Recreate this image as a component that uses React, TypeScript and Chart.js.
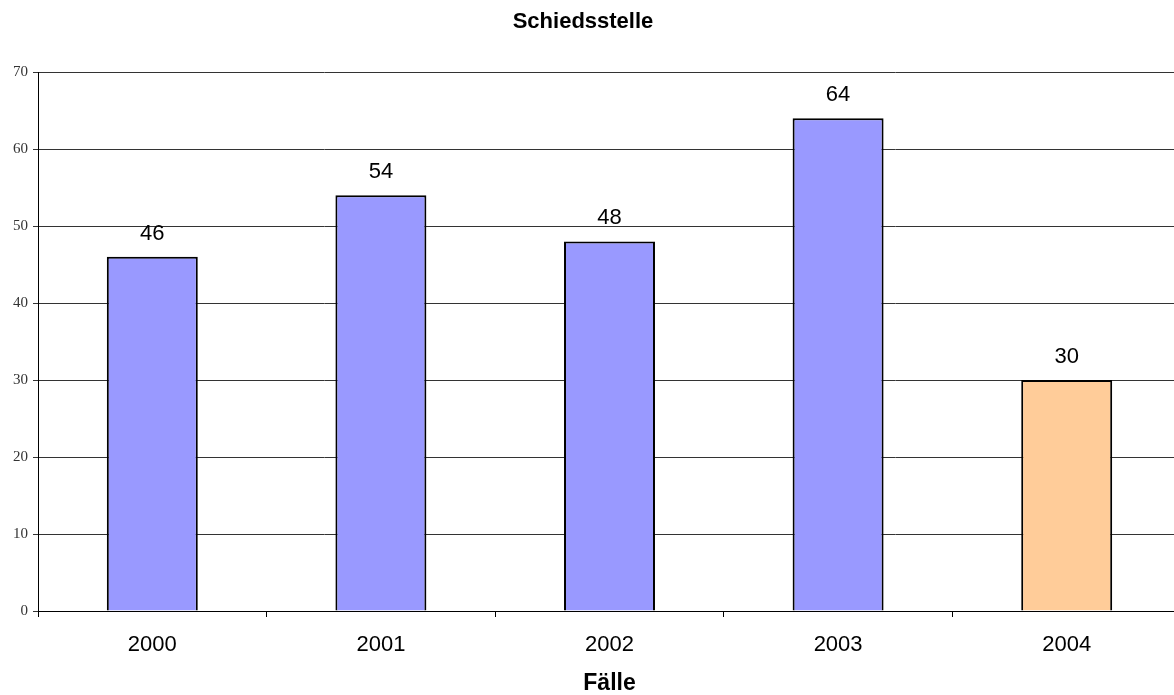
import React, { useEffect, useRef } from "react";
import { Chart, registerables } from "chart.js";

Chart.register(...registerables);

const categories = ["2000", "2001", "2002", "2003", "2004"];
const values = [46, 54, 48, 64, 30];
const barColors = ["#9999FF", "#9999FF", "#9999FF", "#9999FF", "#FFCC99"];
const yTicks = [0, 10, 20, 30, 40, 50, 60, 70];
const chartTitle = "Schiedsstelle";
const xTitle = "Fälle";

const SANS = "'Liberation Sans', Arial, Helvetica, sans-serif";
const SERIF = "'Liberation Serif', 'Times New Roman', serif";

const valueLabels = {
  id: "valueLabels",
  afterDatasetsDraw(chart: any) {
    const ctx = chart.ctx;
    const meta = chart.getDatasetMeta(0);
    ctx.save();
    ctx.font = `22px ${SANS}`;
    ctx.fillStyle = "#000";
    ctx.textAlign = "center";
    ctx.textBaseline = "middle";
    meta.data.forEach((bar: any, i: number) => {
      ctx.fillText(String(values[i]), bar.x, bar.y - 23);
    });
    ctx.restore();
  },
};

const titleText = {
  id: "titleText",
  afterDraw(chart: any) {
    const ctx = chart.ctx;
    ctx.save();
    ctx.font = `bold 22px ${SANS}`;
    ctx.fillStyle = "#000";
    ctx.textAlign = "center";
    ctx.textBaseline = "middle";
    ctx.fillText(chartTitle, 583, 22);
    ctx.restore();
  },
};

export default function App() {
  const ref = useRef<HTMLCanvasElement | null>(null);
  useEffect(() => {
    if (!ref.current) return;
    const chart = new Chart(ref.current, {
      type: "bar",
      data: {
        labels: categories,
        datasets: [
          {
            data: values,
            backgroundColor: barColors,
            borderColor: "#000",
            borderWidth: 2,
            borderSkipped: "bottom",
            barPercentage: 0.398,
            categoryPercentage: 1,
          },
        ],
      },
      plugins: [valueLabels, titleText],
      options: {
        responsive: false,
        animation: false,
        devicePixelRatio: 1,
        layout: { padding: { left: 0, right: 9, top: 72, bottom: 0 } },
        plugins: {
          legend: { display: false },
          tooltip: { enabled: false },
          title: { display: false },
        },
        scales: {
          x: {
            grid: {
              offset: true,
              drawOnChartArea: false,
              drawTicks: true,
              tickLength: 6,
              color: "#000",
            },
            border: { color: "#000", width: 1 },
            ticks: {
              color: "#000",
              font: { family: SANS, size: 22 },
              padding: 15,
              maxRotation: 0,
            },
            title: {
              display: true,
              text: xTitle,
              color: "#000",
              font: { family: SANS, size: 23, weight: "bold", lineHeight: 1 },
              padding: { top: 0, bottom: 0 },
            },
            afterFit(scale: any) {
              scale.height = 84;
            },
          },
          y: {
            min: 0,
            max: 70,
            afterBuildTicks(scale: any) {
              scale.ticks = yTicks.map((v) => ({ value: v }));
            },
            grid: {
              color: "#333",
              drawTicks: true,
              tickLength: 5,
            },
            border: { color: "#000", width: 1 },
            ticks: {
              color: "#333",
              font: { family: SERIF, size: 15 },
              padding: 5,
            },
            afterFit(scale: any) {
              scale.width = 38;
            },
          },
        },
      },
    });
    return () => chart.destroy();
  }, []);
  return (
    <div style={{ position: "absolute", left: 0, top: 0, width: 1174, height: 695, background: "#fff", overflow: "hidden" }}>
      <canvas ref={ref} width={1190} height={695} style={{ display: "block" }} />
    </div>
  );
}
